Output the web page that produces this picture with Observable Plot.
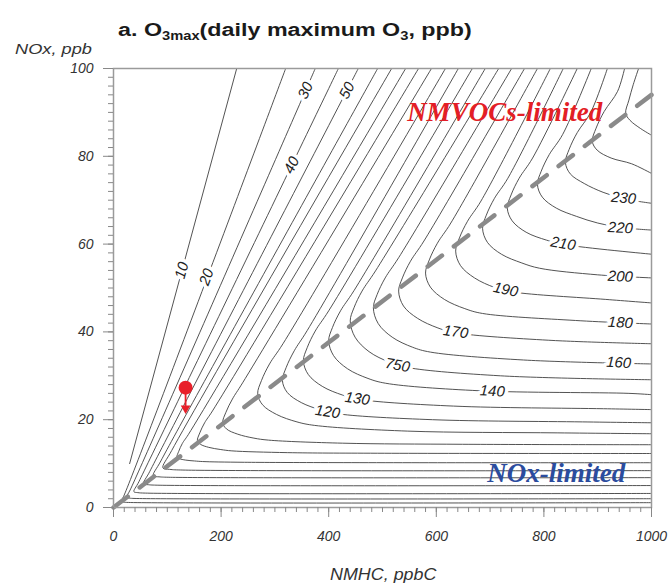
<!DOCTYPE html>
<html><head><meta charset="utf-8">
<script src="https://cdn.jsdelivr.net/npm/d3@7"></script>
<script src="https://cdn.jsdelivr.net/npm/@observablehq/plot@0.6"></script>
<style>
html,body{margin:0;padding:0;background:#fff;}
#chart svg{display:block;}
</style></head><body><div id="chart"></div>
<script>
// ---- axis ticks ----
const xTicks = [0, 200, 400, 600, 800, 1000];
const yTicks = [0, 20, 40, 60, 80, 100];

// ---- O3max isopleths, points read as [NMHC ppbC, NOx ppb] ----
const levels = [10,20,30,40,50,60,70,80,90,100,110,120,130,140,150,160,170,180,190,200,210,220,230,240,250];
const c10 = [[229,100],[30,10]];
const c20 = [[320,100],[18.7,2.5],[14,1.4],[17.5,1.24],[24.6,1.16],[1000,1.1]];
const c30 = [[375,100],[31,4.0],[24,2.3],[29.3,2.14],[40,2.06],[1000,2.0]];
const c40 = [[418,100],[47.3,5.9],[38,3.6],[45.1,3.39],[59.2,3.28],[1000,3.2]];
const c50 = [[455,100],[67.6,8.25],[56,5.4],[64.8,5.19],[82.5,5.08],[1000,5.0]];
const c60 = [[491,100],[88,10.6],[74,7.2],[84.6,6.99],[105.8,6.88],[1000,6.8]];
const c70 = [[517,100],[108.3,13.0],[92,9.0],[104.4,8.69],[129,8.53],[1000,8.4]];
const c80 = [[543,100],[139,16.6],[128,14.6],[121.3,12.8],[118,11.5],[122.2,11.14],[134,10.8],[150.6,10.6],[165.7,10.47],[243.6,10.3],[1000,10.2]];
const c90 = [[567,100],[184,22.0],[169.4,19.3],[160.4,17.0],[156,15.2],[161.6,14.4],[177,13.7],[199.5,13.2],[220,12.9],[323,12.5],[491,12.36],[1000,12.3]];
const c100 = [[591,100],[240,28.4],[221,24.7],[209,21.7],[203,19.3],[210,17.9],[231,16.7],[261,15.8],[288,15.35],[426,14.65],[649,14.4],[1000,14.3]];
const c110 = [[617,100],[315,37.3],[290,32.7],[275,28.9],[268,25.9],[277,23.4],[303,21.2],[341,19.5],[374,18.7],[547,17.4],[826,17.0],[1000,16.8]];
const c120 = [[641,100],[360,40.3],[336,35.7],[321,31.9],[314,28.9],[323,26.2],[349,23.9],[386,22.2],[420,21.3],[593,20.0],[872,19.5],[1000,19.3]];
const c130 = [[667,100],[400,44.8],[375,40.2],[360,36.4],[353,33.4],[362,30.3],[388,27.6],[426,25.6],[459,24.6],[632,23.1],[911,22.5],[1000,22.3]];
const c140 = [[691,100],[447,49.4],[422,44.8],[407,41.0],[400,38.0],[409,34.6],[435,31.6],[473,29.4],[506,28.3],[679,26.6],[958,26.0],[1000,25.7]];
const c150 = [[716,100],[487,53.9],[462,49.3],[447,45.5],[440,42.5],[449,38.8],[475,35.5],[513,33.1],[546,31.9],[719,30.0],[1000,29.1]];
const c160 = [[740,100],[530,56.9],[505,52.3],[490,48.5],[483,45.5],[492,41.9],[518,38.8],[556,36.5],[589,35.4],[762,33.6],[1000,32.7]];
const c170 = [[764,100],[577,60.7],[552,56.1],[537,52.3],[530,49.3],[539,45.9],[565,43.1],[603,40.9],[636,39.8],[809,38.1],[1000,37.3]];
const c180 = [[788,100],[627,64.8],[602,60.2],[587,56.4],[580,53.4],[589,50.2],[615,47.4],[653,45.3],[686,44.2],[859,42.6],[1000,41.8]];
const c190 = [[812,100],[683,69.8],[658,65.2],[643,61.4],[636,58.4],[645,55.1],[671,52.3],[709,50.1],[742,49.1],[915,47.4],[1000,46.6]];
const c200 = [[836,100],[733,75.0],[708,70.4],[693,66.6],[686,63.6],[695,60.4],[721,57.7],[759,55.7],[792,54.5],[900,53.0],[1000,52.3]];
const c210 = [[862,100],[779,79.6],[754,75.0],[739,71.2],[732,68.2],[741,65.3],[767,62.7],[805,60.9],[838,59.9],[1000,57.7]];
const c220 = [[888,100],[835,85.0],[810,80.4],[795,76.6],[788,73.6],[797,70.7],[823,68.2],[861,66.3],[900,64.8],[950,63.7],[1000,63.2]];
const c230 = [[918,100],[887,90.0],[862,85.4],[847,81.6],[840,78.6],[849,76.0],[875,73.8],[910,71.8],[950,70.3],[1000,69.3]];
const c240 = [[950,100],[937,94.8],[912,90.2],[897,86.4],[890,83.4],[899,81.4],[925,79.6],[963,78.3],[1000,76.1]];
const c250 = [[976,100],[966,96.3],[958,92.8],[952,89.8],[960,88.2],[980,86.3],[1000,84.8]];
const contourPaths = [c10,c20,c30,c40,c50,c60,c70,c80,c90,c100,c110,c120,c130,c140,c150,c160,c170,c180,c190,c200,c210,c220,c230,c240,c250];

// ---- contour labels (as printed) ----
const labelText = ["10","20","30","40","50","120","130","750","140","170","190","210","160","180","200","220","230"];
const labelNMHC = [127,173,357,331,434,398,453,528,704,636,729,836,939,942,942,942,948];
const labelNOx  = [54,52.5,95,78,95,21.8,24.8,32.4,26.5,40.0,49.6,60.1,33,42.1,52.6,63.7,70.5];
const labelTilt = [-75,-70,-66,-64,-63,8,8,10,3,8,12,10,3,3,3,3,5];

// ---- ridge line between regimes ----
const ridgeNMHC = [0, 1000];
const ridgeNOx = [0, 94];

// ---- regime names ----
const regimeNames = ["NMVOCs-limited", "NOx-limited"];
const regimeNMHC = [727, 823];
const regimeNOx = [90, 7.7];

// ---- observed point with downward arrow ----
const siteNMHC = [134];
const siteNOx = [27.3];
const siteArrowToNOx = [22.6];

const contourRows = levels.flatMap((lv, i) => contourPaths[i].map(([nmhc, nox]) => ({level: lv, nmhc, nox})));
const labelRows = labelText.map((t, i) => ({t, nmhc: labelNMHC[i], nox: labelNOx[i], a: labelTilt[i]}));
const ridgeRows = ridgeNMHC.map((v, i) => ({nmhc: v, nox: ridgeNOx[i]}));
const regimeRows = regimeNames.map((t, i) => ({t, nmhc: regimeNMHC[i], nox: regimeNOx[i]}));
const siteRows = siteNMHC.map((v, i) => ({nmhc: v, nox: siteNOx[i], nox2: siteArrowToNOx[i]}));

const sans = "'Liberation Sans', Arial, Helvetica, sans-serif";
const serif = "'Liberation Serif', 'Times New Roman', serif";
const red = "#e8202a";

const plot = Plot.plot({
  width: 670, height: 587,
  marginLeft: 113, marginRight: 19, marginTop: 68, marginBottom: 80,
  x: {domain: [0, 1000], label: null},
  y: {domain: [0, 100], label: null},
  style: {fontFamily: sans, background: "white"},
  marks: [
    Plot.line(contourRows, {x: "nmhc", y: "nox", z: "level", curve: "catmull-rom", stroke: "#404040", strokeWidth: 0.9}),
    Plot.line(ridgeRows, {x: "nmhc", y: "nox", stroke: "#8a8a8a", strokeWidth: 4.5, strokeDasharray: "18,15"}),
    Plot.text(labelRows, {x: "nmhc", y: "nox", text: "t", rotate: "a", fontSize: 15, fontStyle: "italic", fill: "#222", stroke: "white", strokeWidth: 7}),
    Plot.text(regimeRows.slice(0,1), {x: "nmhc", y: "nox", text: "t", fontFamily: serif, fontWeight: "bold", fontStyle: "italic", fontSize: 27, fill: "#e31e26"}),
    Plot.text(regimeRows.slice(1), {x: "nmhc", y: "nox", text: "t", fontFamily: serif, fontWeight: "bold", fontStyle: "italic", fontSize: 27, fill: "#2b4c9e"}),
    Plot.link(siteRows, {x1: "nmhc", y1: "nox", x2: "nmhc", y2: "nox2", stroke: red, strokeWidth: 1.8}),
    Plot.dot(siteRows, {x: "nmhc", y: "nox2", symbol: "triangle", rotate: 180, r: 3.6, fill: red, stroke: null}),
    Plot.dot(siteRows, {x: "nmhc", y: "nox", r: 7, fill: red}),
    Plot.frame({stroke: "#9a9a9a", strokeWidth: 1.5}),
    Plot.axisX({ticks: 50, tickSize: 5, tickFormat: () => "", stroke: "#888"}),
    Plot.axisX({ticks: xTicks, tickSize: 10, tickPadding: 14, tickFormat: d3.format("d"), stroke: "#888", fontStyle: "italic", fontSize: 14, fill: "#333"}),
    Plot.axisY({ticks: 50, tickSize: 5, tickFormat: () => "", stroke: "#888"}),
    Plot.axisY({ticks: yTicks, tickSize: 10, tickPadding: 10, tickFormat: d3.format("d"), stroke: "#888", fontStyle: "italic", fontSize: 14, fill: "#333"})
  ]
});
document.getElementById("chart").appendChild(plot);

// ---- title and axis captions with subscripts, fitted to the reference widths ----
const svg = d3.select(plot);
function fitted(x, baseline, width, build, styles) {
  const g = svg.append("g");
  const t = g.append("text").attr("x", 0).attr("y", 0).attr("text-anchor", "start").style("text-anchor", "start");
  for (const [k, v] of Object.entries(styles)) t.style(k, v);
  build(t);
  const w = t.node().getBBox().width;
  g.attr("transform", `translate(${x},${baseline}) scale(${width / w},1)`);
}
fitted(118, 36, 354, t => {
  t.append("tspan").text("a. O");
  t.append("tspan").attr("dy", 4).style("font-size", "12px").text("3max");
  t.append("tspan").attr("dy", -4).text("(daily maximum O");
  t.append("tspan").attr("dy", 4).style("font-size", "12px").text("3");
  t.append("tspan").attr("dy", -4).text(", ppb)");
}, {"font-family": sans, "font-weight": "bold", "font-size": "19px", "fill": "#1a1a1a"});
fitted(15, 54, 77, t => t.text("NOx, ppb"), {"font-family": sans, "font-style": "italic", "font-size": "15px", "fill": "#333"});
fitted(330, 580, 107, t => t.text("NMHC, ppbC"), {"font-family": sans, "font-style": "italic", "font-size": "16px", "fill": "#333"});
</script>
</body></html>
